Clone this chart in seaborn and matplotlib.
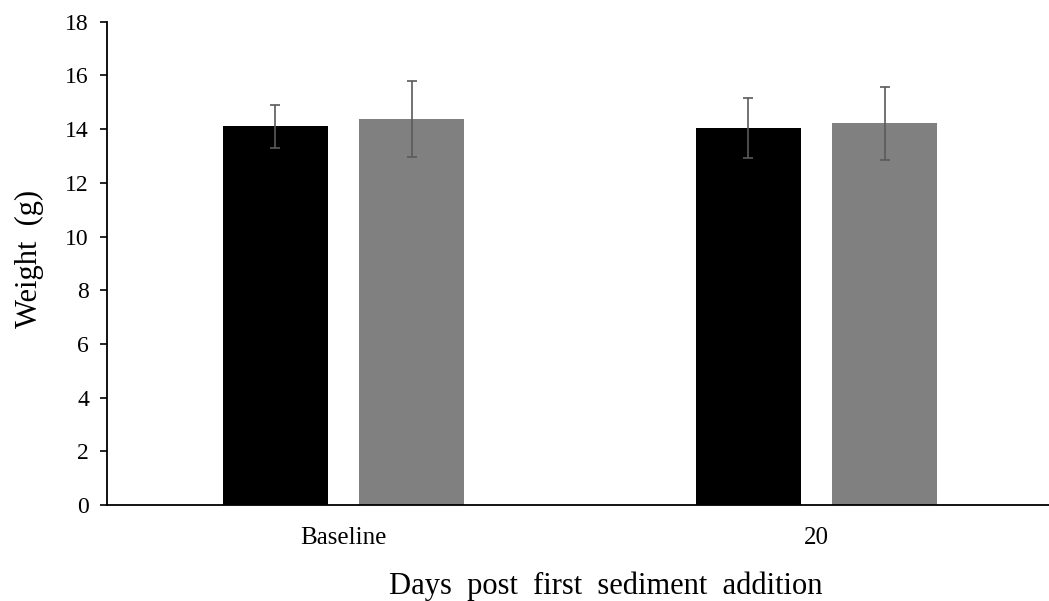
import matplotlib
matplotlib.use("Agg")
import matplotlib.pyplot as plt
import seaborn as sns
import pandas as pd
import numpy as np

# Mean body weight (g) and spread for each sampling day and group
days = ["Baseline", "20"]
groups = ["Control", "Sediment"]
control_mean = [14.10, 14.04]
sediment_mean = [14.38, 14.21]
control_err = [0.79, 1.10]
sediment_err = [1.42, 1.36]
y_ticks = [0, 2, 4, 6, 8, 10, 12, 14, 16, 18]

bar_colors = ["#000000", "#808080"]

df = pd.DataFrame({
    "day": days * 2,
    "group": [groups[0]] * len(days) + [groups[1]] * len(days),
    "weight": control_mean + sediment_mean,
    "err": control_err + sediment_err,
})

sns.set_theme(style="white")
plt.rcParams["font.family"] = ["Liberation Serif", "DejaVu Serif"]
plt.rcParams["text.color"] = "black"
plt.rcParams["axes.labelcolor"] = "black"
plt.rcParams["xtick.color"] = "black"
plt.rcParams["ytick.color"] = "black"

fig = plt.figure(figsize=(10.49, 6.01), dpi=100)
ax = fig.add_axes([107 / 1049, 96 / 601, 946 / 1049, 483.3 / 601])

sns.barplot(data=df, x="day", y="weight", hue="group", order=days,
            hue_order=groups, palette=bar_colors, width=0.576, gap=0.23,
            errorbar=None, legend=False, ax=ax, saturation=1, linewidth=0)

# error bars centred on each drawn bar
for cont, grp in zip(ax.containers, groups):
    sub = df[df["group"] == grp].set_index("day").loc[days]
    xs = [p.get_x() + p.get_width() / 2 for p in cont.patches]
    ax.errorbar(xs, sub["weight"].values, yerr=sub["err"].values, fmt="none",
                ecolor="#5a5a5a", elinewidth=1.2, capsize=3.7, capthick=1.2)

ax.set_xlim(-0.5, 1.5)
ax.set_ylim(0, 18)
ax.set_yticks(y_ticks)
ax.set_yticklabels([str(t) for t in y_ticks])

for side in ["top", "right"]:
    ax.spines[side].set_visible(False)
for side in ["left", "bottom"]:
    ax.spines[side].set_color("black")
    ax.spines[side].set_linewidth(1.3)

ax.tick_params(axis="y", direction="out", length=5, width=1.2, color="black",
               labelsize=17, pad=8, left=True, labelcolor="black")
ax.tick_params(axis="x", length=0, labelsize=18, pad=16, labelcolor="black")

ax.set_xlabel("Days  post  first  sediment  addition", fontsize=22)
ax.set_ylabel("Weight  (g)", fontsize=22)
ax.xaxis.set_label_coords(0.527, -0.138)
ax.yaxis.set_label_coords(-0.067, 0.51)

fig.savefig("out.png", dpi=100, facecolor="white")
